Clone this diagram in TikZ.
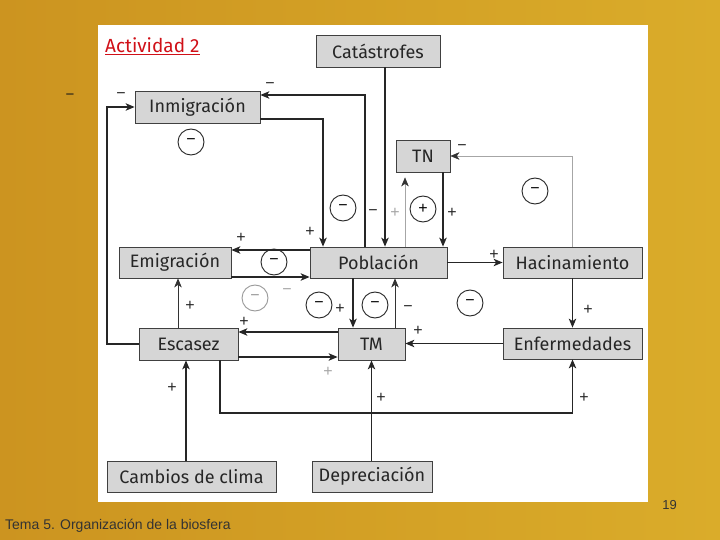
\documentclass[tikz,border=0pt]{standalone}
\usepackage{fontspec}
\setmainfont{Fira Sans}
\newfontfamily\arialf{Liberation Sans}
\usetikzlibrary{arrows.meta,calc}
\definecolor{goldL}{RGB}{204,148,32}
\definecolor{goldR}{RGB}{218,172,42}
\definecolor{boxgray}{RGB}{214,214,214}
\definecolor{redtitle}{RGB}{208,16,24}
\tikzset{
  box/.style={draw=black!75, line width=0.8pt, fill=boxgray, inner sep=0pt,
    font=\fontsize{18}{18}\selectfont, text=black!85},
  arr/.style={-{Stealth[length=9pt,width=7.5pt,inset=2.5pt]}, line width=1.1pt, draw=black!85},
  tarr/.style={-{Stealth[length=9pt,width=7.5pt,inset=2.5pt]}, line width=0.7pt, draw=black!80},
  garr/.style={-{Stealth[length=9pt,width=7.5pt,inset=2.5pt,color=black!80]}, line width=0.5pt, draw=gray!70},
  circ/.style={circle, draw=black!85, line width=0.9pt, minimum size=26pt, inner sep=0pt,
    font=\arialf\fontsize{16}{16}\selectfont},
  gcirc/.style={circ, draw=gray!80, text=gray!80},
  lbl/.style={inner sep=0pt, font=\arialf\fontsize{16}{16}\selectfont, text=black!85},
  glbl/.style={lbl, text=gray!70}
}
\begin{document}
\begin{tikzpicture}[x=1pt,y=-1pt]
\useasboundingbox (0,0) rectangle (720,540);
\shade[left color=goldL, right color=goldR] (0,0) rectangle (720,540);
\fill[white] (98,25) rectangle (648,502);

% title and footer
\node[anchor=west, inner sep=0pt, text=redtitle, font=\fontsize{19}{19}\selectfont\mdseries] (title) at (105,46) {\underline{Actividad 2}};
\node[inner sep=0pt, font=\arialf\fontsize{15}{15}\selectfont, text=black!90] (dash) at (70,97) {−};
\node[anchor=east, inner sep=0pt, font=\arialf\fontsize{13}{13}\selectfont, text=black!80] (page) at (677,505) {19};
\node[anchor=west, inner sep=0pt, font=\arialf\fontsize{14}{14}\selectfont, text=black!80] (foot) at (5,526) {Tema 5. Organización de la biosfera};

% boxes
\node[box, minimum width=124pt, minimum height=32pt] (cat) at (378,51) {Catástrofes};
\node[box, minimum width=125pt, minimum height=32pt] (inm) at (197.5,107) {Inmigración};
\node[box, minimum width=54pt, minimum height=32pt] (tn) at (423,156) {TN};
\node[box, minimum width=112pt, minimum height=31pt] (emi) at (175,262.5) {Emigración};
\node[box, minimum width=137pt, minimum height=31pt] (pob) at (378.5,262.5) {Población};
\node[box, minimum width=139pt, minimum height=31pt] (hac) at (572.5,262.5) {Hacinamiento};
\node[box, minimum width=99pt, minimum height=32pt] (esc) at (188.5,344) {Escasez};
\node[box, minimum width=67pt, minimum height=32pt] (tm) at (371.5,344) {TM};
\node[box, minimum width=139pt, minimum height=31pt] (enf) at (572.5,343.5) {Enfermedades};
\node[box, minimum width=169pt, minimum height=31pt] (cam) at (191.5,476.5) {Cambios de clima};
\node[box, minimum width=120pt, minimum height=31pt] (dep) at (372,476.5) {Depreciación};

% routing coordinates
\coordinate (k1) at (220,413);
\coordinate (k2) at (107,107);
\coordinate (k3) at (365,95);
\coordinate (k4) at (323,119);
\coordinate (x385) at (385,0);
\coordinate (x405) at (405,0);
\coordinate (x443) at (443,0);
\coordinate (x186) at (186,0);
\coordinate (x178) at (178,0);
\coordinate (x353) at (353,0);
\coordinate (x395) at (395,0);
\coordinate (y250) at (0,250);
\coordinate (y277) at (0,277);
\coordinate (y332) at (0,332);
\coordinate (y357) at (0,357);

% connectors
\draw[arr] (esc.west) -| (k2) -- (inm.west);
\draw[arr] (pob.north -| k3) -- (k3) -- (inm.east |- k3);
\draw[arr] (inm.east |- k4) -- (k4) -- (pob.north -| k4);
\draw[arr] (cat.south -| x385) -- (pob.north -| x385);
\draw[garr, shorten >=5pt] (pob.north -| x405) -- (tn.south -| x405);
\draw[arr] (tn.south -| x443) -- (pob.north -| x443);
\draw[garr] (hac.north) |- (tn.east);
\draw[arr] (pob.east) -- (hac.west);
\draw[arr] (hac.south) -- (enf.north);
\draw[arr] (enf.west) -- (tm.east |- enf.west);
\draw[arr] (cam.north -| x186) -- (esc.south -| x186);
\draw[arr] (dep.north -| tm.south) -- (tm.south);
\draw[arr] (esc.south -| k1) -- (k1) -| (enf.south);
\draw[arr] (tm.west |- y332) -- (esc.east |- y332);
\draw[arr] (esc.east |- y357) -- (tm.west |- y357);
\draw[tarr] (esc.north -| x178) -- (emi.south -| x178);
\draw[arr] (pob.west |- y250) -- (emi.east |- y250);
\draw[arr] (emi.east |- y277) -- (pob.west |- y277);
\draw[arr] (pob.south -| x353) -- (tm.north -| x353);
\draw[tarr] (tm.north -| x395) -- (pob.south -| x395);

% loop circles
\node[circ] (c1) at (191,142) {−};
\node[circ] (c2) at (343,208) {−};
\node[circ] (c3) at (423,209) {+};
\node[circ] (c4) at (535,191) {−};
\node[circ] (c5) at (274,262) {−};
\node[gcirc] (c6) at (255,298) {−};
\node[circ] (c7) at (319,305) {−};
\node[circ] (c8) at (375,305) {−};
\node[circ] (c9) at (470,303) {−};

% signs
\node[lbl] (s1) at (121,96) {−};
\node[lbl] (s2) at (270,86) {−};
\node[lbl] (s3) at (462,148) {−};
\node[lbl] (s4) at (452,213) {+};
\node[glbl] (s5) at (395,213) {+};
\node[lbl] (s6) at (373,213) {−};
\node[lbl] (s7) at (310,232) {+};
\node[lbl] (s8) at (241,238) {+};
\node[lbl] (s9) at (494,255) {+};
\node[glbl] (s10) at (287,292) {−};
\node[lbl] (s11) at (190,306) {+};
\node[lbl] (s12) at (244,322) {+};
\node[lbl] (s13) at (340,309) {+};
\node[lbl] (s14) at (408,309) {−};
\node[lbl] (s15) at (418,331) {+};
\node[glbl] (s16) at (328,372) {+};
\node[lbl] (s17) at (588,310) {+};
\node[lbl] (s18) at (172,388) {+};
\node[lbl] (s19) at (381,398) {+};
\node[lbl] (s20) at (584,398) {+};
\end{tikzpicture}
\end{document}
